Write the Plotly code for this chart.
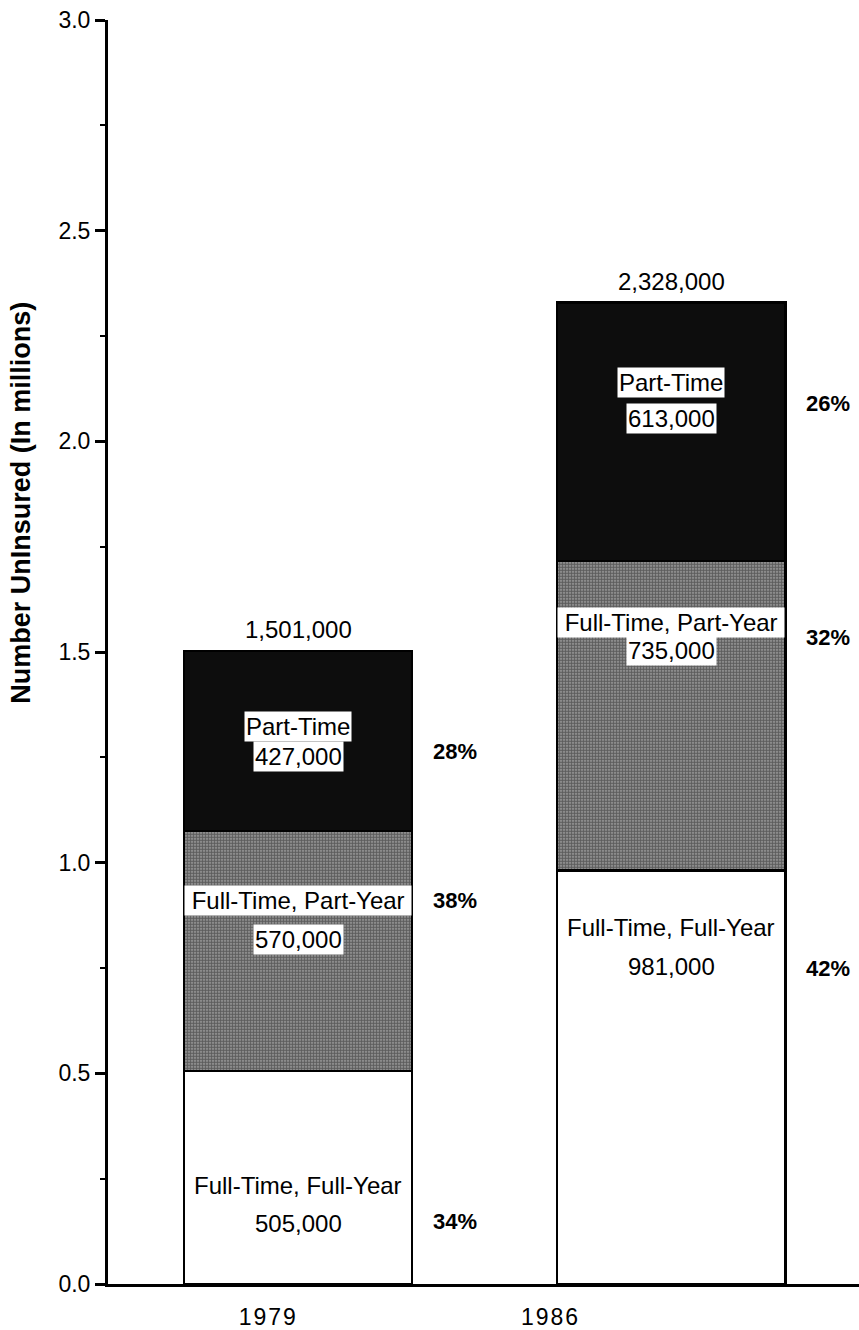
import plotly.graph_objects as go

# Uninsured workers by employment pattern (thousands)
years = ["1979", "1986"]
full_time_full_year = [505, 981]
full_time_part_year = [570, 735]
part_time = [427, 613]
totals = [1501000, 2328000]

segment_names = ["Full-Time, Full-Year", "Full-Time, Part-Year", "Part-Time"]
segment_values = [full_time_full_year, full_time_part_year, part_time]

# ---- layout geometry -------------------------------------------------------
W, H = 859, 1330
ML, MR, MT, MB = 108, 0, 20, 44
plot_w = W - ML - MR
bar_x = [0.253, 0.75]          # bar centres on a 0..1 horizontal axis
bar_w = 0.304
tick_x = [0.212, 0.588]        # where the year labels sit
bar_px = bar_w * plot_w

FONT = "Liberation Sans, Arial, Helvetica, sans-serif"

fig = go.Figure()

styles = [
    dict(color="white"),
    dict(color="#7a7a7a",
         pattern=dict(shape=".", fgcolor="#111111", bgcolor="#a9a9a9",
                      size=3, solidity=0.7)),
    dict(color="#0d0d0d"),
]

for name, vals, st in zip(segment_names, segment_values, styles):
    fig.add_trace(go.Bar(
        x=bar_x, y=[v / 1000 for v in vals], width=bar_w, name=name,
        marker=dict(**st, line=dict(color="black", width=2.5)),
        showlegend=False, hoverinfo="skip",
    ))

fig.update_layout(barmode="stack")

annotations = []

def label(x, y, text, boxed=False, bold=False, size=24, width=None, xshift=0,
          yanchor="middle", yshift=0):
    a = dict(x=x, y=y, xref="x", yref="y", text=f"<b>{text}</b>" if bold else text,
             showarrow=False, xanchor="center", yanchor=yanchor,
             xshift=xshift, yshift=yshift,
             font=dict(family=FONT, size=size, color="black"))
    if boxed:
        a.update(bgcolor="white", borderpad=1)
    if width:
        a["width"] = width
    annotations.append(a)

# text centre heights for each year, bottom segment first
name_y = [[0.234, 0.911, 1.323], [0.847, 1.569, 2.140]]
value_y = [[0.144, 0.817, 1.252], [0.753, 1.503, 2.054]]
pct_y = [[0.149, 0.911, 1.264], [0.748, 1.534, 2.090]]

for i, yr in enumerate(years):
    cx = bar_x[i]
    right = cx + bar_w / 2
    seg_total = sum(v[i] for v in segment_values)
    for j, (nm, vals) in enumerate(zip(segment_names, segment_values)):
        v = vals[i]
        full_width = bar_px - 4 if j == 1 else None
        label(cx, name_y[i][j], nm, boxed=(j > 0), width=full_width)
        label(cx, value_y[i][j], f"{v * 1000:,}", boxed=(j > 0))
        pct = round(100 * v / totals[i] * 1000)
        label(right, pct_y[i][j], f"{pct}%", bold=True, size=22, xshift=43)
    label(cx, seg_total / 1000, f"{totals[i]:,}", yanchor="bottom", yshift=6)

# vertical axis title
annotations.append(dict(
    x=0, y=0.618, xref="paper", yref="paper", xshift=-(ML - 21),
    text="<b>Number UnInsured (In millions)</b>", textangle=-90,
    showarrow=False, xanchor="center", yanchor="middle",
    font=dict(family=FONT, size=27, color="black"),
))

fig.update_layout(
    width=W, height=H,
    margin=dict(l=ML, r=MR, t=MT, b=MB, pad=0),
    plot_bgcolor="white", paper_bgcolor="white",
    annotations=annotations,
    xaxis=dict(
        range=[0, 1], showgrid=False, zeroline=False,
        showline=True, linecolor="black", linewidth=3,
        tickvals=tick_x, ticktext=["1\u200a9\u200a7\u200a9", "1\u200a9\u200a8\u200a6"],
        ticks="", ticklabelstandoff=10,
        tickfont=dict(family=FONT, size=23, color="black"),
    ),
    yaxis=dict(
        range=[0, 3.0], showgrid=False, zeroline=False,
        showline=True, linecolor="black", linewidth=3,
        tickvals=[0, 0.5, 1.0, 1.5, 2.0, 2.5, 3.0], tickformat=".1f",
        ticks="outside", ticklen=10, tickwidth=2.5, tickcolor="black",
        minor=dict(dtick=0.25, ticks="outside", ticklen=5, tickwidth=2,
                   tickcolor="black"),
        tickfont=dict(family=FONT, size=23, color="black"),
    ),
)

fig.write_html("out.html")
